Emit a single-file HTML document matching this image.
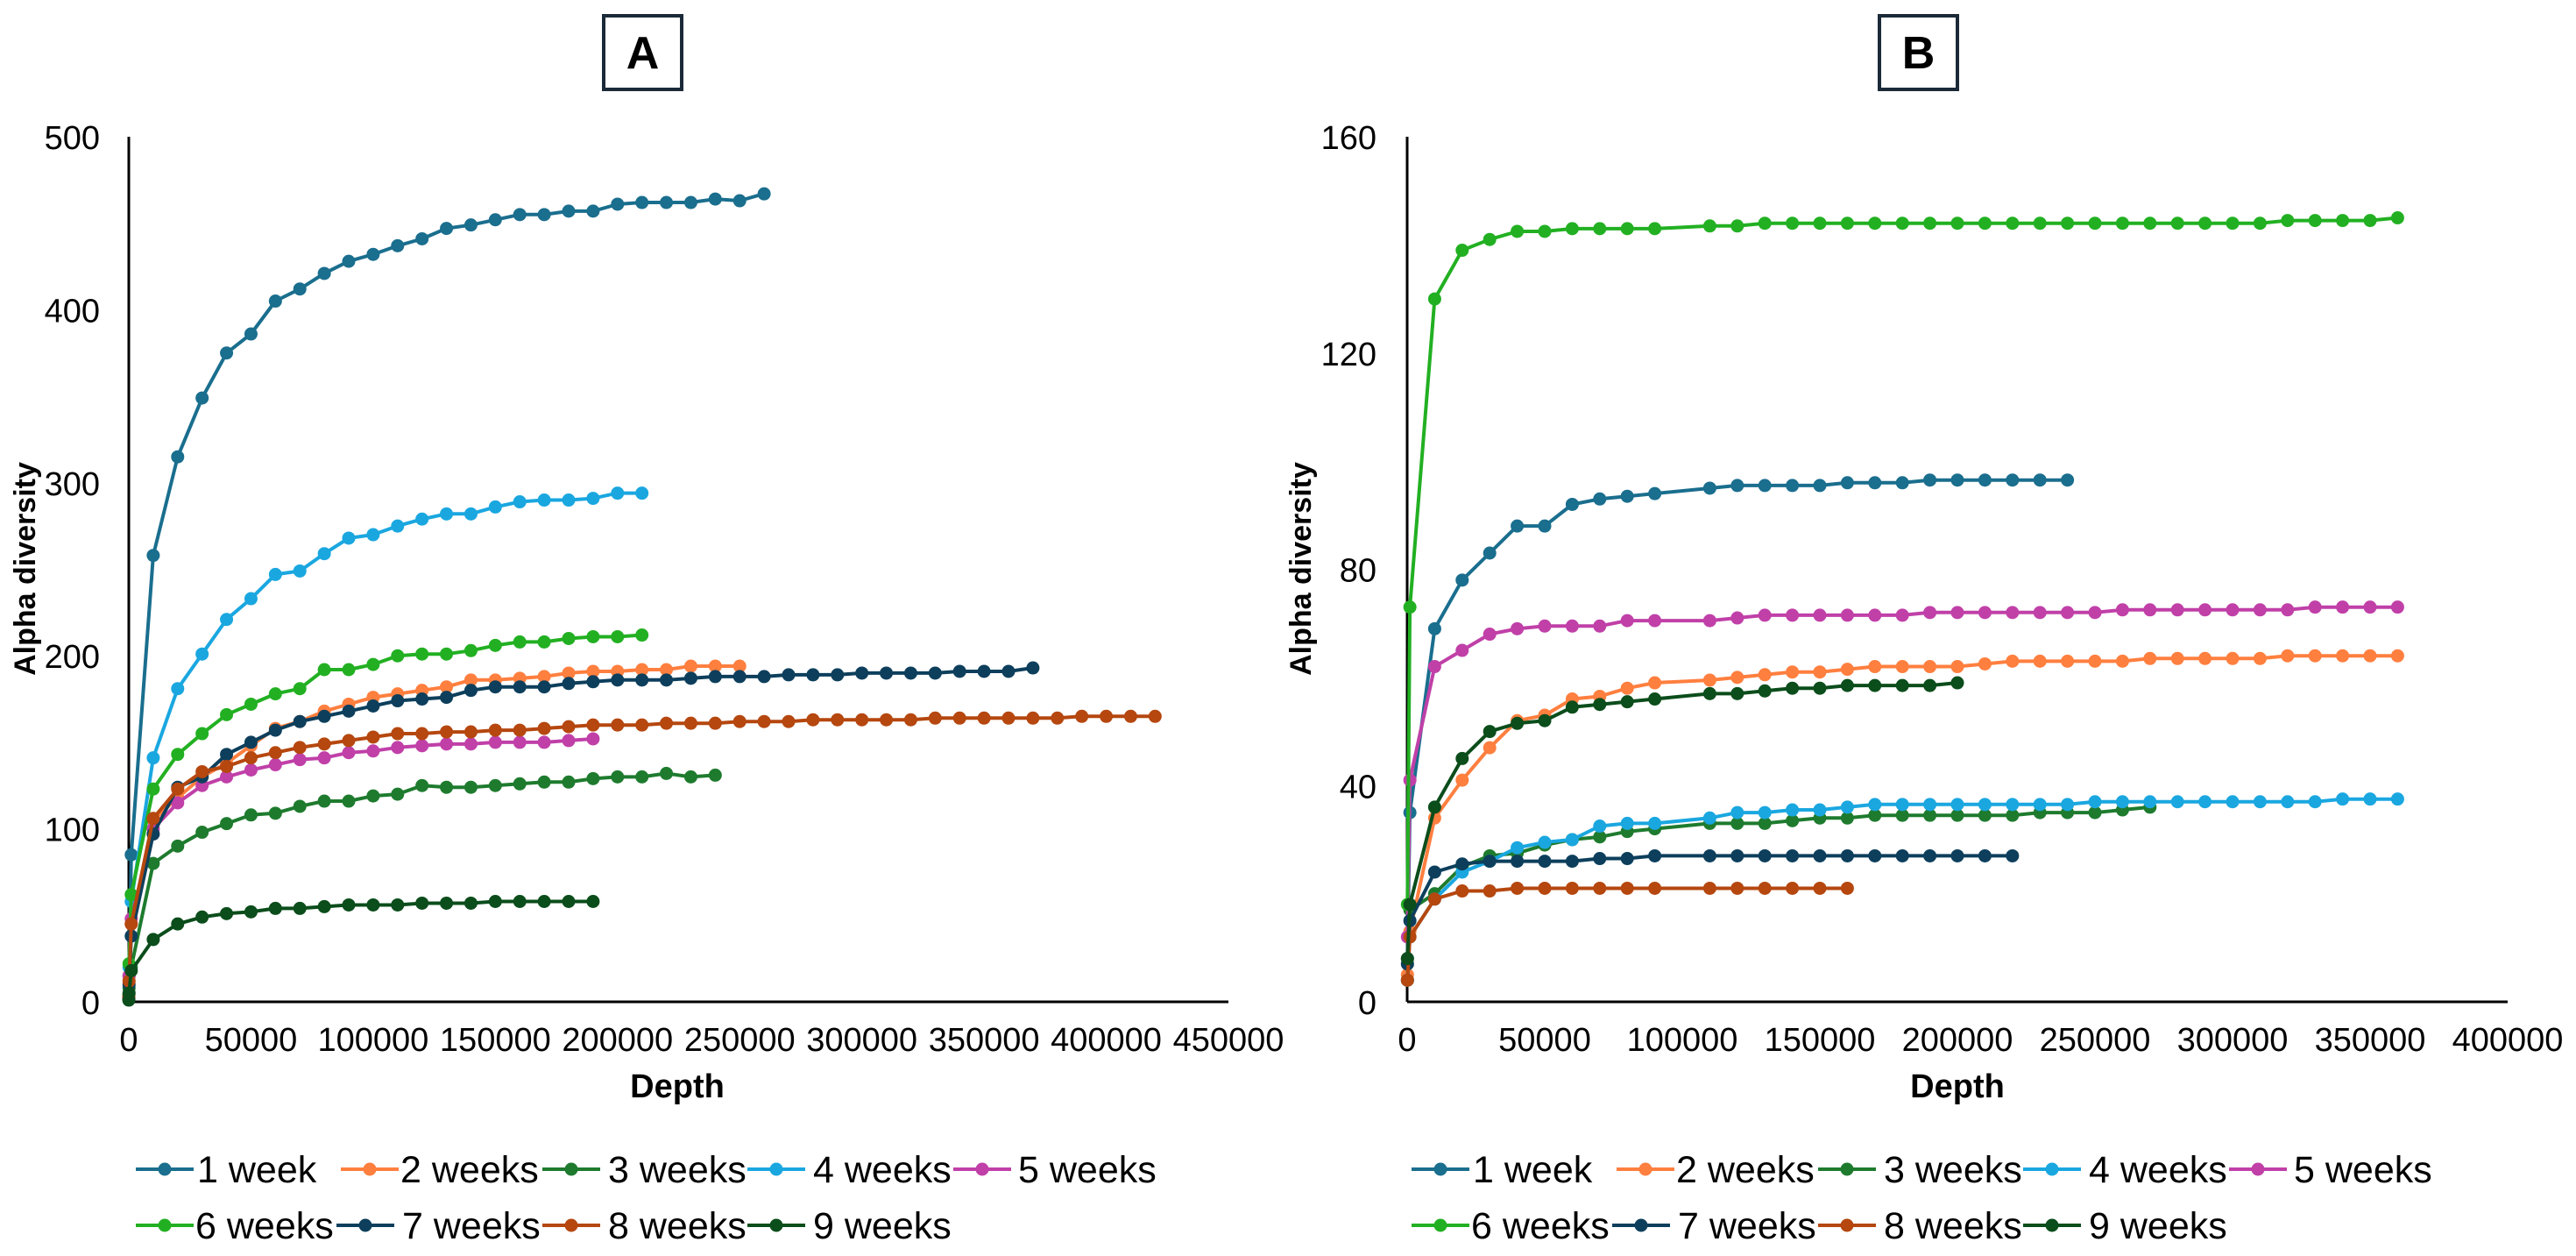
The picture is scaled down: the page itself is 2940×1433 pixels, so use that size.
<!DOCTYPE html>
<html><head><meta charset="utf-8">
<style>
html,body{margin:0;padding:0;background:#fff;}
svg{display:block;font-family:"Liberation Sans",Arial,sans-serif;}
</style></head>
<body>
<svg id="chart" width="2940" height="1433" viewBox="0 0 2940 1433" xmlns="http://www.w3.org/2000/svg"></svg>
<script>
// ---------- data ----------
const seriesNames = ["1 week","2 weeks","3 weeks","4 weeks","5 weeks","6 weeks","7 weeks","8 weeks","9 weeks"];
const seriesColors = ["#1a6e8e","#ff7f3f","#1e7b2e","#1aa7e0","#c040a8","#22b022","#0d3f5c","#b5470f","#0b4d1b"];

const depthA = [10,100,1000,10000,20000,30000,40000,50000,60000,70000,80000,90000,100000,110000,120000,130000,140000,150000,160000,170000,180000,190000,200000,210000,220000,230000,240000,250000,260000,270000,280000,290000,300000,310000,320000,330000,340000,350000,360000,370000,380000,390000,400000,410000,420000];
const a1 = [2,15,85,258,315,349,375,386,405,412,421,428,432,437,441,447,449,452,455,455,457,457,461,462,462,462,464,463,467];
const a2 = [3,15,45,105,118,130,138,148,158,162,168,172,176,178,180,182,186,186,187,188,190,191,191,192,192,194,194,194];
const a3 = [2,8,20,80,90,98,103,108,109,113,116,116,119,120,125,124,124,125,126,127,127,129,130,130,132,130,131];
const a4 = [3,20,58,141,181,201,221,233,247,249,259,268,270,275,279,282,282,286,289,290,290,291,294,294];
const a5 = [3,15,48,100,115,125,130,134,137,140,141,144,145,147,148,149,149,150,150,150,151,152];
const a6 = [4,22,62,123,143,155,166,172,178,181,192,192,195,200,201,201,203,206,208,208,210,211,211,212];
const a7 = [2,10,38,97,124,130,143,150,157,162,165,168,171,174,175,176,180,182,182,182,184,185,186,186,186,187,188,188,188,189,189,189,190,190,190,190,191,191,191,193];
const a8 = [3,12,45,106,123,133,136,141,144,147,149,151,153,155,155,156,156,157,157,158,159,160,160,160,161,161,161,162,162,162,163,163,163,163,163,164,164,164,164,164,164,165,165,165,165];
const a9 = [1,5,18,36,45,49,51,52,54,54,55,56,56,56,57,57,57,58,58,58,58,58];
const valuesA = [a1,a2,a3,a4,a5,a6,a7,a8,a9];
const yTicksA = [0,100,200,300,400,500];
const xTicksA = [0,50000,100000,150000,200000,250000,300000,350000,400000,450000];

const depthB = [100,1000,10000,20000,30000,40000,50000,60000,70000,80000,90000,110000,120000,130000,140000,150000,160000,170000,180000,190000,200000,210000,220000,230000,240000,250000,260000,270000,280000,290000,300000,310000,320000,330000,340000,350000,360000];
const b1 = [8,35,69,78,83,88,88,92,93,93.5,94,95,95.5,95.5,95.5,95.5,96,96,96,96.5,96.5,96.5,96.5,96.5,96.5];
const b2 = [5,13,34,41,47,52,53,56,56.5,58,59,59.5,60,60.5,61,61,61.5,62,62,62,62,62.5,63,63,63,63,63,63.5,63.5,63.5,63.5,63.5,64,64,64,64,64];
const b3 = [4,17,20,25,27,27.5,29,30,30.5,31.5,32,33,33,33,33.5,34,34,34.5,34.5,34.5,34.5,34.5,34.5,35,35,35,35.5,36];
const b4 = [4,12,19,24,26,28.5,29.5,30,32.5,33,33,34,35,35,35.5,35.5,36,36.5,36.5,36.5,36.5,36.5,36.5,36.5,36.5,37,37,37,37,37,37,37,37,37,37.5,37.5,37.5];
const b5 = [12,41,62,65,68,69,69.5,69.5,69.5,70.5,70.5,70.5,71,71.5,71.5,71.5,71.5,71.5,71.5,72,72,72,72,72,72,72,72.5,72.5,72.5,72.5,72.5,72.5,72.5,73,73,73,73];
const b6 = [18,73,130,139,141,142.5,142.5,143,143,143,143,143.5,143.5,144,144,144,144,144,144,144,144,144,144,144,144,144,144,144,144,144,144,144,144.5,144.5,144.5,144.5,145];
const b7 = [7,15,24,25.5,26,26,26,26,26.5,26.5,27,27,27,27,27,27,27,27,27,27,27,27,27];
const b8 = [4,12,19,20.5,20.5,21,21,21,21,21,21,21,21,21,21,21,21];
const b9 = [8,18,36,45,50,51.5,52,54.5,55,55.5,56,57,57,57.5,58,58,58.5,58.5,58.5,58.5,59];
const valuesB = [b1,b2,b3,b4,b5,b6,b7,b8,b9];
const yTicksB = [0,40,80,120,160];
const xTicksB = [0,50000,100000,150000,200000,250000,300000,350000,400000];

// ---------- drawing ----------
const NS = "http://www.w3.org/2000/svg";
const svg = document.getElementById("chart");
function mk(tag, attrs, parent){
  const e = document.createElementNS(NS, tag);
  for (const k in attrs) e.setAttribute(k, attrs[k]);
  (parent||svg).appendChild(e);
  return e;
}

function panel(cfg){
  const g = mk("g", {});
  
  
  const sx = v => cfg.x0 + v / cfg.xMax * (cfg.x1 - cfg.x0);
  const sy = v => cfg.y0 - v / cfg.yMax * (cfg.y0 - cfg.y1);

  // title box
  const box = mk("rect", {x:cfg.boxX, y:18, width:89, height:84, fill:"none", stroke:"#1b2a38", "stroke-width":4}, g);
  
  
  const t = mk("text", {x:cfg.boxX+44.5, y:78, "text-anchor":"middle", "font-size":52, "font-weight":"bold", fill:"#000"}, g);
  t.textContent = cfg.letter;
  
  

  // axes
  const xa = mk("line", {x1:cfg.x0, y1:cfg.y0, x2:cfg.x1, y2:cfg.y0, stroke:"#000", "stroke-width":3}, g);
  
  
  const ya = mk("line", {x1:cfg.x0, y1:cfg.y0, x2:cfg.x0, y2:cfg.y1, stroke:"#000", "stroke-width":3}, g);
  
  

  cfg.yTicks.forEach(v => {
    const tl = mk("text", {x:cfg.yLabelX, y:sy(v)+14, "text-anchor":"end", "font-size":38, fill:"#000"}, g);
    tl.textContent = v;
    
    
  });
  cfg.xTicks.forEach(v => {
    const tl = mk("text", {x:sx(v), y:1199, "text-anchor":"middle", "font-size":38, fill:"#000"}, g);
    tl.textContent = v;
    
    
  });
  const xt = mk("text", {x:cfg.depthX, y:1252, "text-anchor":"middle", "font-size":38, "font-weight":"bold", fill:"#000"}, g);
  xt.textContent = "Depth";
  
  
  const yt = mk("text", {x:0, y:0, "text-anchor":"middle", "font-size":34, "font-weight":"bold", fill:"#000", transform:"translate("+(cfg.alphaX+12)+",649) rotate(-90)"}, g);
  yt.textContent = "Alpha diversity";
  
  

  // series
  cfg.values.forEach((vals, i) => {
    const sg = mk("g", {}, g);
    
    
    const pts = vals.map((v, j) => sx(cfg.depth[j]).toFixed(1) + "," + sy(v).toFixed(1)).join(" ");
    const pl = mk("polyline", {points:pts, fill:"none", stroke:seriesColors[i], "stroke-width":4, "stroke-linejoin":"round"}, sg);
    
    
    vals.forEach((v, j) => {
      const c = mk("circle", {cx:sx(cfg.depth[j]), cy:sy(v), r:7.5, fill:seriesColors[i]}, sg);
      
      
    });
  });

  // legend
  const lineX = [155,389,619,853,1088,155,384,619,853];
  const textX = [225,457,694,928,1162,223,459,694,928];
  seriesNames.forEach((n, i) => {
    const row = i < 5 ? 0 : 1;
    const cy = row === 0 ? 1334 : 1398;
    const lg = mk("g", {}, g);
    
    
    const lx = lineX[i] + cfg.legendOff;
    mk("line", {x1:lx, y1:cy, x2:lx+66, y2:cy, stroke:seriesColors[i], "stroke-width":4}, lg);
    mk("circle", {cx:lx+33, cy:cy, r:7.5, fill:seriesColors[i]}, lg);
    const tx = mk("text", {x:textX[i] + cfg.legendOff, y:cy+15, "font-size":43, fill:"#000"}, lg);
    tx.textContent = n;
  });
}

panel({letter:"A", boxX:689, x0:147, x1:1402, xMax:450000, y0:1143, y1:156, yMax:500,
  yTicks:yTicksA, xTicks:xTicksA, yLabelX:114, depthX:773, alphaX:28, depth:depthA, values:valuesA, legendOff:0});
panel({letter:"B", boxX:2145, x0:1606, x1:2862, xMax:400000, y0:1143, y1:156, yMax:160,
  yTicks:yTicksB, xTicks:xTicksB, yLabelX:1571, depthX:2234, alphaX:1484, depth:depthB, values:valuesB, legendOff:1456});
</script>
</body></html>
